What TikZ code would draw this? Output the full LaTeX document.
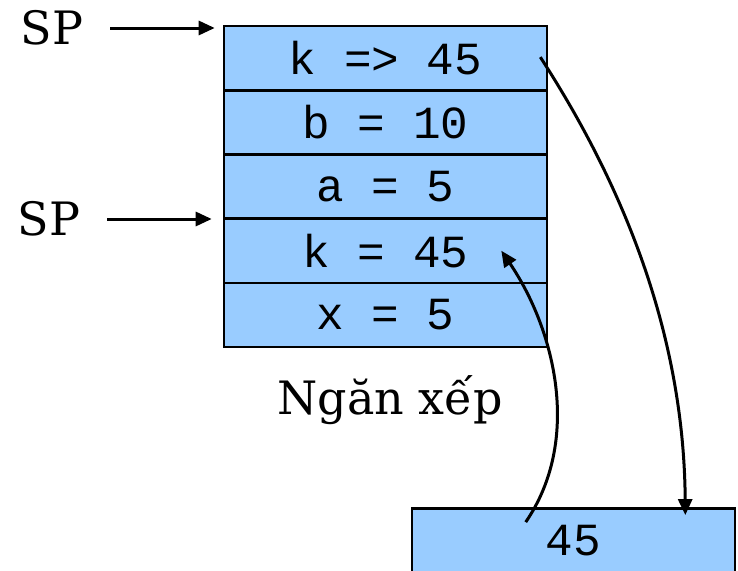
\documentclass[tikz,border=0pt]{standalone}
\usepackage{fontspec}
\setmainfont{DejaVu Serif}
\setmonofont{Liberation Mono}
\usetikzlibrary{calc, arrows.meta}
\definecolor{cellblue}{HTML}{99CCFF}

\begin{document}
\begin{tikzpicture}[x=1pt, y=-1pt,
  cell/.style={draw, line width=2.6pt, fill=cellblue, inner sep=0pt,
    minimum width=323pt, minimum height=64.2pt,
    font=\fontsize{46}{50}\selectfont\ttfamily},
  lbl/.style={inner sep=0pt, font=\fontsize{46}{50}\selectfont},
  ptr/.style={-{Triangle[length=16pt, width=14pt]}, line width=3pt}]
  \useasboundingbox (0,0) rectangle (738,570);
  \clip (0,0) rectangle (738,570);
  % --- Stack cells (top to bottom) ---
  \foreach \t [count=\i] in {k => 45, b = 10, a = 5, k = 45, x = 5} {
    \node[cell] (r\i) at (385.5, {26 + 64.2*(\i - 0.5)}) {\t};
  }
  \node[lbl] (stk) at (390,400) {Ngăn xếp};
  % --- Result cell ---
  \node[cell] (res) at (573.5,540.5) {45};
  % --- Stack pointers ---
  \node[lbl] (sp1) at (52,28) {SP};
  \node[lbl] (sp2) at (49,219) {SP};
  \draw[ptr, shorten <=27pt, shorten >=8pt] (sp1.east) -- (sp1.east -| r1.west);
  \draw[ptr, shorten <=27pt, shorten >=11pt] (sp2.east) -- (sp2.east -| r4.west);
  % --- Value flow ---
  \draw[ptr] ($(r1.east)+(-8,-1)$) .. controls (620,180) and (684,330) .. ($(res.north east)+(-51,8)$);
  \draw[ptr] ($(res.north west)+(115,15)$) .. controls (582,440) and (555,330) .. ($(r4.east)+(-47,0)$);
\end{tikzpicture}
\end{document}
